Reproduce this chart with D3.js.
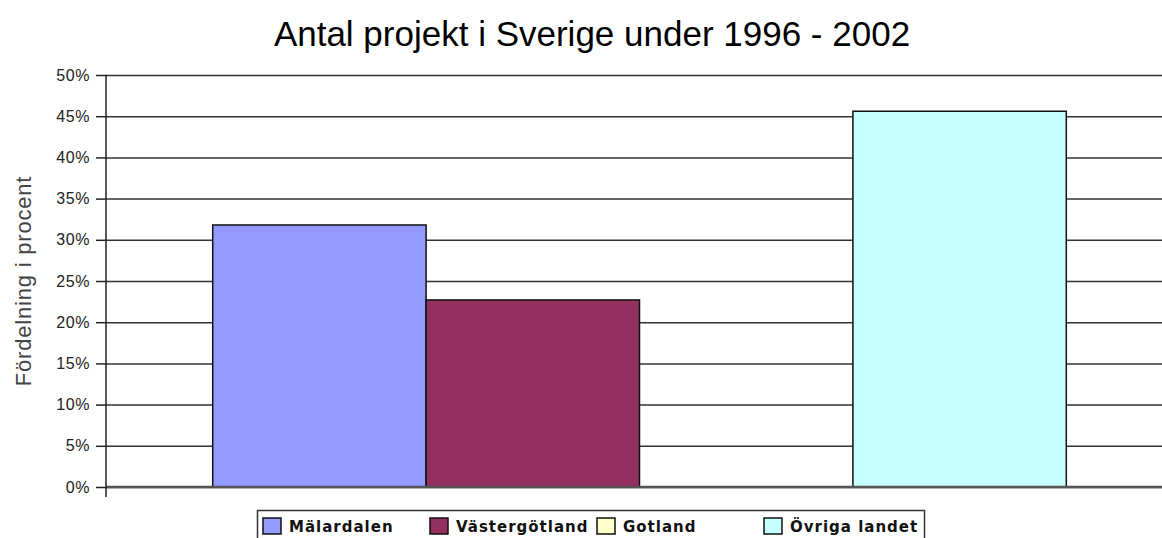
<!DOCTYPE html>
<html>
<head>
<meta charset="utf-8">
<script src="https://cdn.jsdelivr.net/npm/d3@7"></script>
<style>
  body { margin:0; background:#fff; overflow:hidden; }
  svg { display:block; }
  .title { font-family:"Liberation Sans", Arial, sans-serif; font-size:35px; fill:#000; }
  .ylabel { font-family:"Liberation Sans", Arial, sans-serif; font-size:22px; fill:#444; letter-spacing:0.8px; }
  .axis-y text { font-family:"Liberation Sans", Arial, sans-serif; font-size:16px; fill:#222; letter-spacing:0.6px; }
  .axis-y path, .axis-y line { stroke:#222; stroke-width:1.5; }
  .grid line { stroke:#333; stroke-width:1.5; }
  .grid path { display:none; }
  .legend text { font-family:"DejaVu Sans", Verdana, sans-serif; font-size:15px; font-weight:bold; fill:#111; letter-spacing:1px; }
</style>
</head>
<body>
<div id="canvas"></div>
<script>
// data
var title = 'Antal projekt i Sverige under 1996 - 2002';
var yTitle = 'Fördelning i procent';
var series = ['Mälardalen', 'Västergötland', 'Gotland', 'Övriga landet'];
var values = [0.318, 0.227, 0, 0.456];
var colors = ['#9499ff', '#933060', '#ffffcc', '#c6ffff'];
var yTicks = [0, 0.05, 0.1, 0.15, 0.2, 0.25, 0.3, 0.35, 0.4, 0.45, 0.5];

var W = 1162, H = 538;
var m = {t:75, l:106, b:51};
var plotRight = 1173; // plot area runs past the picture edge

var svg = d3.select('#canvas').append('svg')
    .attr('width', W).attr('height', H);

var scaleY = d3.scaleLinear().domain([0, 0.5]).range([H - m.b, m.t]);
var scaleX0 = d3.scaleBand().domain(['']).range([m.l, plotRight])
    .paddingInner(0).paddingOuter(0.125);
var scaleX1 = d3.scaleBand().domain(series)
    .range([scaleX0(''), scaleX0('') + scaleX0.bandwidth()]);

// title
svg.append('text').attr('class','title')
    .attr('x', 592).attr('y', 46)
    .attr('text-anchor','middle')
    .text(title);

// y axis title
svg.append('text').attr('class','ylabel')
    .attr('transform','translate(31,' + ((m.t + H - m.b) / 2) + ') rotate(-90)')
    .attr('text-anchor','middle')
    .text(yTitle);

// gridlines
svg.append('g').attr('class','grid')
    .attr('transform','translate(' + m.l + ',0)')
    .call(d3.axisLeft(scaleY).tickValues(yTicks).tickSize(-(plotRight - m.l)).tickFormat(''));

// bars
svg.append('g').selectAll('rect')
    .data(series)
    .enter()
    .append('rect')
    .attr('x', function(d){ return scaleX1(d); })
    .attr('width', scaleX1.bandwidth())
    .attr('y', function(d,i){ return scaleY(values[i]); })
    .attr('height', function(d,i){ return scaleY(0) - scaleY(values[i]); })
    .attr('fill', function(d,i){ return colors[i]; })
    .attr('stroke', '#111')
    .attr('stroke-width', function(d,i){ return values[i] > 0 ? 1.5 : 0; });

// x axis baseline
svg.append('line')
    .attr('x1', m.l).attr('x2', plotRight)
    .attr('y1', scaleY(0)).attr('y2', scaleY(0))
    .attr('stroke', '#555').attr('stroke-width', 2.5);

// y axis
var axisY = svg.append('g').attr('class','axis axis-y')
    .attr('transform','translate(' + m.l + ',0)')
    .call(d3.axisLeft(scaleY).tickValues(yTicks).tickSize(10).tickSizeOuter(0).tickPadding(6)
        .tickFormat(d3.format('.0%')));
axisY.select('.domain').remove();
axisY.append('line')
    .attr('x1', 0).attr('x2', 0)
    .attr('y1', scaleY(0.5)).attr('y2', scaleY(0) + 10);

// legend
var legend = svg.append('g').attr('class','legend');
legend.append('rect')
    .attr('x', 257.5).attr('y', 510.5)
    .attr('width', 667).attr('height', 40)
    .attr('fill', '#fff').attr('stroke', '#333').attr('stroke-width', 1.5);
var items = legend.selectAll('.item')
    .data(series)
    .enter()
    .append('g')
    .attr('class','item')
    .attr('transform', function(d,i){ return 'translate(' + (263 + i * 167) + ',518)'; });
items.append('rect')
    .attr('width', 18).attr('height', 16)
    .attr('fill', function(d,i){ return colors[i]; })
    .attr('stroke', '#111').attr('stroke-width', 1.5);
items.append('text')
    .attr('x', 26).attr('y', 14)
    .text(function(d){ return d; });
</script>
</body>
</html>
